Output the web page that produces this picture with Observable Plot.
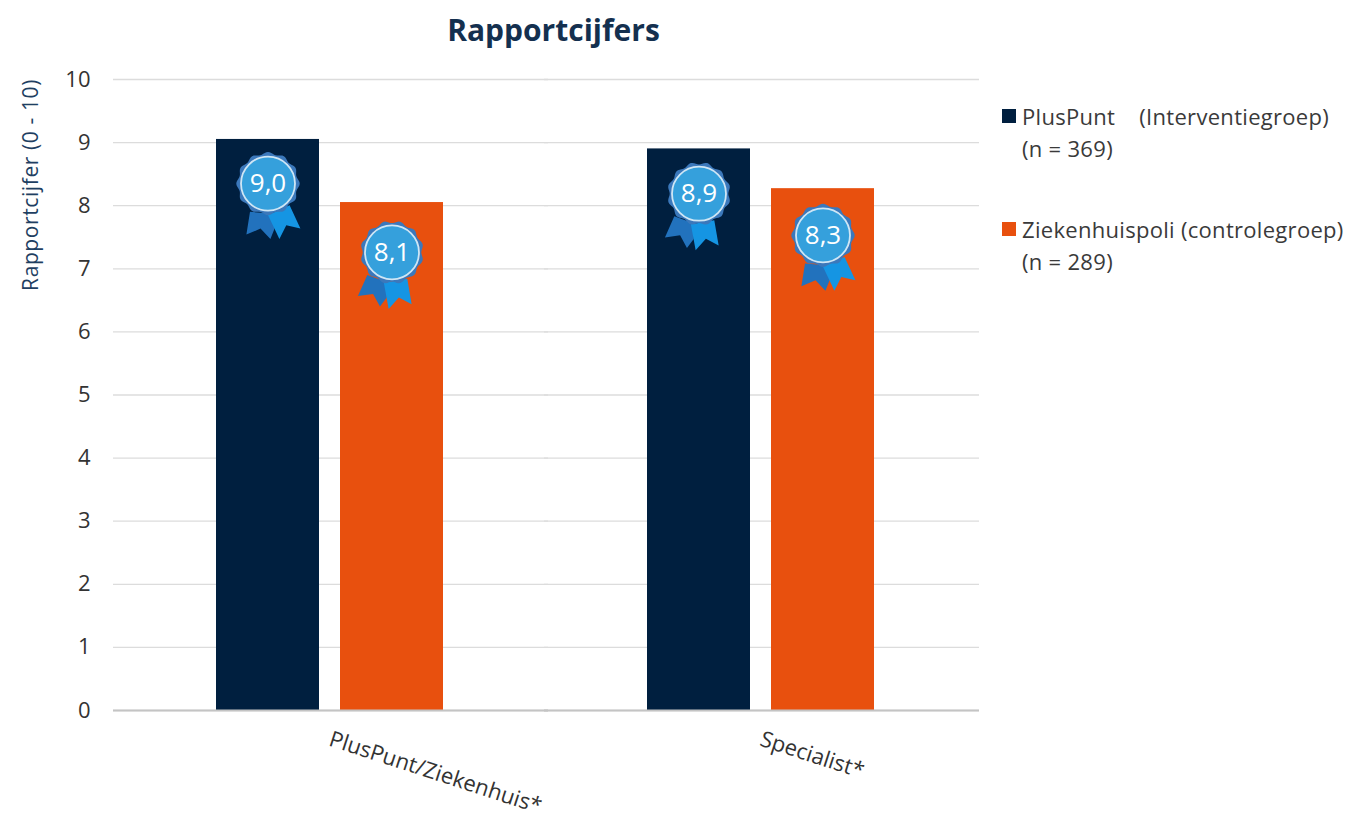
<!DOCTYPE html>
<html>
<head>
<meta charset="utf-8">
<script src="https://cdn.jsdelivr.net/npm/d3@7"></script>
<script src="https://cdn.jsdelivr.net/npm/@observablehq/plot@0.6"></script>
<style>
html,body{margin:0;padding:0;background:#fff;}
#wrap{position:relative;width:1352px;height:825px;font-family:"Open Sans",sans-serif;overflow:hidden;}
#title{position:absolute;left:113px;width:881px;top:10px;text-align:center;font-size:30px;font-weight:700;color:#14304f;line-height:40px;}
#ylabel{position:absolute;left:30px;top:185px;transform:translate(-50%,-50%) rotate(-90deg);font-size:21px;letter-spacing:.6px;color:#1f3f62;white-space:nowrap;}
#legend{position:absolute;left:1002px;top:0;font-size:22px;letter-spacing:.3px;line-height:32px;color:#3a3a3a;white-space:pre;}
#legend .item{position:absolute;left:20px;}
#legend .sw{position:absolute;left:-20px;top:9px;width:14px;height:14px;}
</style>
</head>
<body>
<div id="wrap">
<div id="title"></div>
<div id="ylabel"></div>
<div id="legend"></div>
<div id="chart"></div>
</div>
<script>
const chartTitle = "Rapportcijfers";
const yLabel = "Rapportcijfer (0 - 10)";
const categories = ["PlusPunt/Ziekenhuis*", "Specialist*"];
const groups = ["PlusPunt", "Ziekenhuispoli"];
const colors = ["#001f3f", "#e8500e"];
const legendLines = [
  ["PlusPunt    (Interventiegroep)", "(n = 369)"],
  ["Ziekenhuispoli (controlegroep)", "(n = 289)"]
];
const plusPuntValues = [9.05, 8.9];
const ziekenhuisValues = [8.05, 8.27];
const plusPuntLabels = ["9,0", "8,9"];
const ziekenhuisLabels = ["8,1", "8,3"];
const plusPuntBadgeY = [8.35, 8.19];
const ziekenhuisBadgeY = [7.26, 7.53];
const plusPuntBadgeTilt = [0, 15];
const ziekenhuisBadgeTilt = [15, 0];
const yTicks = [0,1,2,3,4,5,6,7,8,9,10];

const rows = categories.flatMap((c, i) => [
  {cat: c, group: groups[0], value: plusPuntValues[i], label: plusPuntLabels[i], badge: plusPuntBadgeY[i], tilt: plusPuntBadgeTilt[i]},
  {cat: c, group: groups[1], value: ziekenhuisValues[i], label: ziekenhuisLabels[i], badge: ziekenhuisBadgeY[i], tilt: ziekenhuisBadgeTilt[i]}
]);

// Rosette glyphs: shapes relative to the mark's own centre, scaled by the dot size.
const scallop = (ctx, R) => {
  const n = 12;
  for (let a = 0; a <= 360; a += 3) {
    const t = a * Math.PI / 180;
    const r = R * (1 + 0.04 * Math.cos(n * t));
    const px = r * Math.cos(t), py = r * Math.sin(t);
    a === 0 ? ctx.moveTo(px, py) : ctx.lineTo(px, py);
  }
  ctx.closePath();
};
const poly = (pts) => ({draw(ctx, size) {
  const R = Math.sqrt(size / Math.PI);
  pts.forEach(([a, b], i) => i ? ctx.lineTo(a * R, b * R) : ctx.moveTo(a * R, b * R));
  ctx.closePath();
}});
const ribbonLeft = poly([[-0.6,0.94],[-0.72,1.7],[-0.25,1.5],[0.08,1.85],[0.22,1.5],[0.1,1.0]]);
const ribbonRight = poly([[0,1.05],[0.38,1.85],[0.61,1.39],[1.08,1.5],[0.72,0.72]]);
const scallopSymbol = {draw(ctx, size){ scallop(ctx, Math.sqrt(size / Math.PI)); }};

const badgeOpts = {fx: "cat", x: "group", y: "badge", rotate: "tilt"};

const chart = Plot.plot({
  width: 1352,
  height: 825,
  marginTop: 79,
  marginBottom: 115,
  marginLeft: 113,
  marginRight: 373,
  style: {background: "transparent", fontFamily: "'Open Sans', sans-serif", overflow: "visible"},
  y: {domain: [0, 10]},
  x: {domain: groups, paddingInner: 0.17, paddingOuter: 0.81, axis: null},
  fx: {domain: categories, padding: 0, range: [114, 976], axis: null},
  marks: [
    Plot.ruleY(yTicks, {stroke: "#dcdcdc", strokeWidth: 1.3, insetLeft: -1, insetRight: -3}),
    Plot.barY(rows, {fx: "cat", x: "group", y: "value", fill: d => colors[groups.indexOf(d.group)]}),
    Plot.ruleY([0], {stroke: "#c4c4c4", strokeWidth: 2, insetLeft: -1, insetRight: -3}),
    Plot.axisY({ticks: yTicks, tickSize: 0, tickPadding: 24, fontSize: 22, color: "#333", label: null, tickFormat: d => d}),
    Plot.axisFx({domain: categories, anchor: "bottom", tickSize: 0, tickPadding: 28, tickRotate: 18, fontSize: 22, color: "#333", label: null}),
    Plot.dot(rows, {...badgeOpts, r: 30, symbol: ribbonLeft, fill: "#2272bd"}),
    Plot.dot(rows, {...badgeOpts, r: 30, symbol: ribbonRight, fill: "#1595e3"}),
    Plot.dot(rows, {...badgeOpts, r: 30.5, symbol: scallopSymbol, fill: "#3b78bb"}),
    Plot.dot(rows, {fx: "cat", x: "group", y: "badge", r: 27, fill: "#35a0dc", stroke: "#cfe6f5", strokeWidth: 1.8}),
    Plot.text(rows, {fx: "cat", x: "group", y: "badge", text: "label", fill: "#fff", fontSize: 26})
  ]
});
document.getElementById("chart").appendChild(chart);

document.getElementById("title").textContent = chartTitle;
document.getElementById("ylabel").textContent = yLabel;
const legend = document.getElementById("legend");
const legendTops = [100, 213];
legendLines.forEach((lines, i) => {
  const item = document.createElement("div");
  item.className = "item";
  item.style.top = legendTops[i] + "px";
  const sw = document.createElement("span");
  sw.className = "sw";
  sw.style.background = colors[i];
  item.appendChild(sw);
  item.appendChild(document.createTextNode(lines[0] + "\n" + lines[1]));
  legend.appendChild(item);
});
</script>
</body>
</html>
